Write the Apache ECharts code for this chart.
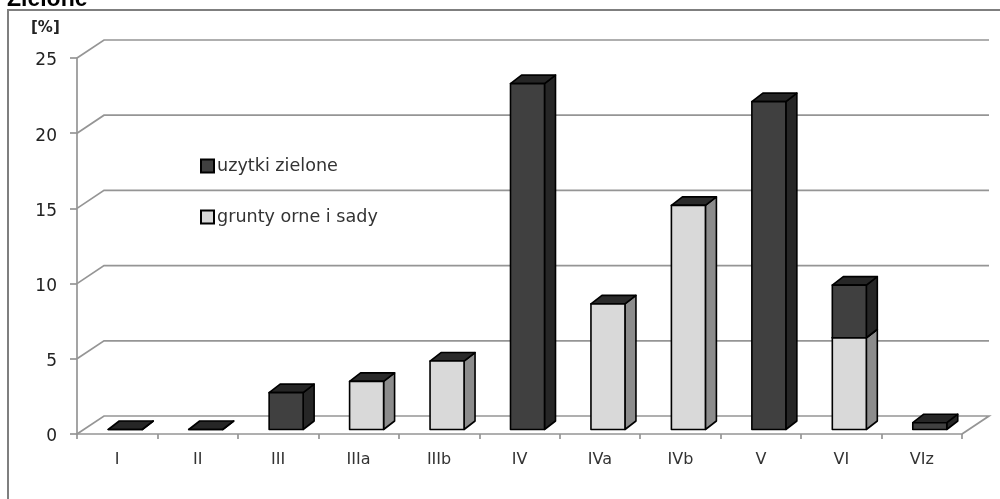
<!DOCTYPE html>
<html><head><meta charset="utf-8">
<style>html,body{margin:0;padding:0;background:#fff}#c{width:1000px;height:499px}</style>
<script src="https://cdn.jsdelivr.net/npm/echarts@6/dist/echarts.min.js"></script>
</head><body><div id="c"></div>
<script>
const categories = ['I','II','III','IIIa','IIIb','IV','IVa','IVb','V','VI','VIz'];
const gruntyOrne = [0,0,0,3.2,4.55,0,8.35,14.9,0,6.1,0];
const uzytkiZielone = [0,0,2.45,0,0,23,0,0,21.8,3.5,0.45];
const valueTicks = [0,5,10,15,20,25];
const FONT = '"DejaVu Sans"';

const WALL_DX = 27, WALL_DY = 18;      // depth of the pseudo-3D room
const PLANE_DX = 8, PLANE_DY = 4.5;    // front plane of bars vs. axis plane
const DEPTH_DX = 11, DEPTH_DY = 8.5;   // depth of a bar
const BAR_W = 34;
const GREY = '#959595';

function barItem(colors) {
  return function (params, api) {
    const cat = api.value(0);
    const base = api.coord([cat, api.value(1)]);
    const top = api.coord([cat, api.value(2)]);
    const x0 = base[0] + PLANE_DX - BAR_W / 2, x1 = x0 + BAR_W;
    const y0 = base[1] - PLANE_DY, y1 = top[1] - PLANE_DY;
    const st = (fill) => ({ fill: fill, stroke: '#000', lineWidth: 1.6, lineJoin: 'round' });
    const poly = (pts, fill) => ({ type: 'polygon', shape: { points: pts }, style: st(fill) });
    return { type: 'group', children: [
      poly([[x1,y0],[x1+DEPTH_DX,y0-DEPTH_DY],[x1+DEPTH_DX,y1-DEPTH_DY],[x1,y1]], colors.side),
      poly([[x0,y1],[x1,y1],[x1+DEPTH_DX,y1-DEPTH_DY],[x0+DEPTH_DX,y1-DEPTH_DY]], colors.top),
      poly([[x0,y0],[x1,y0],[x1,y1],[x0,y1]], colors.front)
    ]};
  };
}

function wallItem(params, api) {
  const cs = params.coordSys;
  const y = api.coord([0, api.value(1)])[1];
  const xl = cs.x, xr = cs.x + cs.width;
  const isFloor = api.value(1) === 0;
  const pts = isFloor
    ? [[xl,y],[xl+WALL_DX,y-WALL_DY],[xr+WALL_DX,y-WALL_DY],[xr,y]]
    : [[xl,y],[xl+WALL_DX,y-WALL_DY],[xr+WALL_DX,y-WALL_DY]];
  return { type: 'polyline', shape: { points: pts }, style: { fill: null, stroke: GREY, lineWidth: 1.7 } };
}

const gruntyData = gruntyOrne.map((v,i)=>[i,0,v]).filter(d=>d[2]>0);
// classes with no land at all still show a flat dark lid
const uzytkiData = uzytkiZielone.map((v,i)=>[i,gruntyOrne[i],gruntyOrne[i]+v])
  .filter((d,i)=>uzytkiZielone[i]>0 || gruntyOrne[i]===0);
const lightColors = { front:'#d9d9d9', side:'#8c8c8c', top:'#2b2b2b' };
const darkColors  = { front:'#404040', side:'#262626', top:'#262626' };

const chart = echarts.init(document.getElementById('c'), null, {renderer:'canvas'});
chart.setOption({
  animation:false,
  backgroundColor:'#fff',
  grid:{left:77,right:38,top:58,bottom:65,containLabel:false},
  xAxis:{type:'category',data:categories,boundaryGap:true,
    axisLine:{lineStyle:{color:GREY,width:1.7}},
    axisTick:{show:true,length:5,alignWithLabel:false,lineStyle:{color:GREY,width:1.7}},
    axisLabel:{color:'#333',fontFamily:FONT,fontSize:16,margin:18,interval:0},
    splitLine:{show:false}},
  yAxis:{type:'value',min:0,max:25,interval:5,
    axisLine:{show:true,lineStyle:{color:GREY,width:1.7}},
    axisTick:{show:true,length:7,lineStyle:{color:GREY,width:1.7}},
    axisLabel:{margin:20,formatter:'{a|{value}}',
      rich:{a:{color:'#222',fontFamily:FONT,fontSize:17,padding:[6,0,0,0]}}},
    splitLine:{show:false}},
  legend:{data:['uzytki zielone','grunty orne i sady'],orient:'vertical',left:200,top:157,padding:0,
    itemWidth:13,itemHeight:13,itemGap:33,icon:'rect',selectedMode:false,
    textStyle:{color:'#333',fontFamily:FONT,fontSize:17.6,padding:[0,0,0,-2]}},
  graphic:[
    {type:'rect',shape:{x:8,y:10,width:1100,height:600},style:{fill:null,stroke:'#7f7f7f',lineWidth:2},z:-1,silent:true},
    {type:'text',left:7,top:-12,style:{text:'Zielone',fontFamily:'"Liberation Sans"',fontWeight:'bold',fontSize:23,fill:'#000'}},
    {type:'text',left:31,top:21,style:{text:'[%]',font:'bold 15px "DejaVu Sans"',fill:'#222'}}
  ],
  series:[
    {name:'walls',type:'custom',data:valueTicks.map(t=>[0,t]),encode:{x:0,y:1},renderItem:wallItem,silent:true,z:1},
    {name:'grunty orne i sady',type:'custom',data:gruntyData,encode:{x:0,y:[1,2]},renderItem:barItem(lightColors),
      itemStyle:{color:'#d9d9d9',borderColor:'#000',borderWidth:1.5},z:2},
    {name:'uzytki zielone',type:'custom',data:uzytkiData,encode:{x:0,y:[1,2]},renderItem:barItem(darkColors),
      itemStyle:{color:'#404040',borderColor:'#000',borderWidth:1.5},z:3}
  ]
});
</script></body></html>
